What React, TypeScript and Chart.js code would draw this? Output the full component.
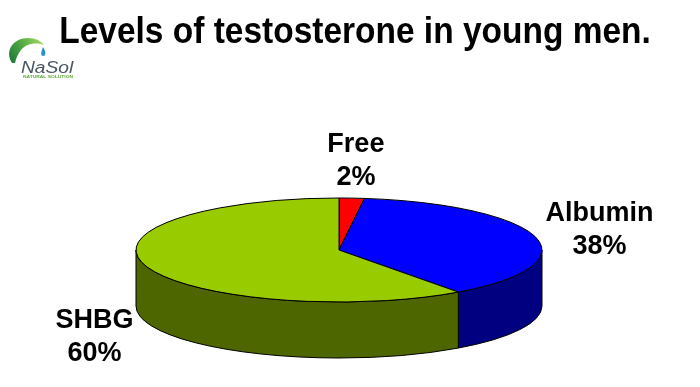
import React, { useEffect, useRef } from "react";
import { Chart, registerables } from "chart.js";

Chart.register(...registerables);

const titleText = "Levels of testosterone in young men.";
const categories = ["Free", "Albumin", "SHBG"];
const values = [2, 38, 60];
const topColors = ["#FF0000", "#0000FF", "#99CC00"];
const sideColors = ["#800000", "#000080", "#4D6600"];

const FONT = "Arial, 'Liberation Sans', Helvetica, sans-serif";

const pie3d = {
  id: "pie3d",
  beforeDatasetsDraw(chart: any) {
    const ctx = chart.ctx;
    const meta = chart.getDatasetMeta(0);
    const arcs = meta.data as any[];
    if (!arcs.length) return false;
    const a0 = arcs[0];
    const cx = a0.x;
    const cy = a0.y;
    const R = a0.outerRadius;
    const rx = R * 2.03;
    const ry = R * 0.52;
    const depth = R * 0.56;
    ctx.save();
    ctx.lineWidth = 1;
    ctx.strokeStyle = "#000000";
    ctx.lineJoin = "round";
    // side walls (front, visible portion)
    arcs.forEach((arc: any, i: number) => {
      const ranges = [
        [0, Math.PI],
        [2 * Math.PI, 3 * Math.PI],
        [-2 * Math.PI, -Math.PI],
      ];
      ranges.forEach(([lo, hi]) => {
        const s = Math.max(arc.startAngle, lo);
        const e = Math.min(arc.endAngle, hi);
        if (e - s <= 0.0001) return;
        ctx.beginPath();
        ctx.ellipse(cx, cy, rx, ry, 0, s, e, false);
        ctx.ellipse(cx, cy + depth, rx, ry, 0, e, s, true);
        ctx.closePath();
        ctx.fillStyle = sideColors[i % sideColors.length];
        ctx.fill();
        ctx.stroke();
      });
    });
    // top faces
    arcs.forEach((arc: any, i: number) => {
      ctx.beginPath();
      ctx.moveTo(cx, cy);
      ctx.ellipse(cx, cy, rx, ry, 0, arc.startAngle, arc.endAngle, false);
      ctx.closePath();
      ctx.fillStyle = topColors[i % topColors.length];
      ctx.fill();
      ctx.stroke();
    });

    // labels
    const total = values.reduce((a, b) => a + b, 0);
    ctx.fillStyle = "#000000";
    ctx.textAlign = "center";
    ctx.textBaseline = "alphabetic";
    ctx.font = `bold 27px ${FONT}`;
    arcs.forEach((arc: any, i: number) => {
      const mid = (arc.startAngle + arc.endAngle) / 2;
      const c = Math.cos(mid);
      const s = Math.sin(mid);
      const x = cx + (rx + (c >= 0 ? 66 : 54)) * c;
      let y = cy + (ry + 40) * s;
      if (s > 0.1) y += depth;
      const pct = Math.round((values[i] / total) * 100) + "%";
      ctx.fillText(String(chart.data.labels[i]), x, y - 6);
      ctx.fillText(pct, x, y + 27);
    });

    // title
    ctx.save();
    ctx.translate(355, 43);
    ctx.scale(0.93, 1);
    ctx.font = `bold 36px ${FONT}`;
    ctx.fillText(titleText, 0, 0);
    ctx.restore();

    // logo
    ctx.save();
    const lg = ctx.createLinearGradient(10, 60, 42, 40);
    lg.addColorStop(0, "#1F7A3A");
    lg.addColorStop(0.6, "#5FB548");
    lg.addColorStop(1, "#A8D86A");
    ctx.fillStyle = lg;
    ctx.beginPath();
    ctx.moveTo(12, 63);
    ctx.bezierCurveTo(4, 50, 14, 38, 28, 38);
    ctx.bezierCurveTo(36, 38, 41, 41, 44, 45);
    ctx.bezierCurveTo(34, 42, 26, 44, 21, 50);
    ctx.bezierCurveTo(18, 54, 16, 58, 15, 63);
    ctx.closePath();
    ctx.fill();
    ctx.fillStyle = "#2A8FD0";
    ctx.beginPath();
    ctx.moveTo(43, 47);
    ctx.quadraticCurveTo(46, 52, 45.2, 54);
    ctx.arc(43.2, 54, 2, 0, Math.PI, false);
    ctx.quadraticCurveTo(41, 52, 43, 47);
    ctx.fill();
    ctx.fillStyle = "#4A5662";
    ctx.translate(21, 73);
    ctx.scale(1.2, 1);
    ctx.font = `italic 16px ${FONT}`;
    ctx.textAlign = "left";
    ctx.fillText("NaSol", 0, 0);
    ctx.restore();
    ctx.save();
    ctx.fillStyle = "#5FA83A";
    ctx.textAlign = "left";
    ctx.translate(23, 78);
    ctx.scale(1.4, 1);
    ctx.font = `bold 3.5px ${FONT}`;
    ctx.fillText("NATURAL SOLUTION", 0, 0);
    ctx.restore();

    ctx.restore();
    return false;
  },
};

export default function App() {
  const ref = useRef<HTMLCanvasElement | null>(null);
  useEffect(() => {
    document.body.style.margin = "0";
    if (!ref.current) return;
    const chart = new Chart(ref.current, {
      type: "pie",
      data: {
        labels: categories,
        datasets: [
          {
            data: values,
            backgroundColor: topColors,
            borderWidth: 0,
          },
        ],
      },
      options: {
        animation: false,
        responsive: false,
        radius: 100,
        rotation: 0,
        layout: { padding: { left: 0, right: 22, top: 113, bottom: 0 } },
        plugins: {
          legend: { display: false },
          title: { display: false },
          tooltip: { enabled: false },
        },
      } as any,
      plugins: [pie3d],
    });
    return () => chart.destroy();
  }, []);
  return (
    <div style={{ width: 700, height: 387, background: "#ffffff" }}>
      <canvas ref={ref} width={700} height={387} style={{ display: "block" }} />
    </div>
  );
}
